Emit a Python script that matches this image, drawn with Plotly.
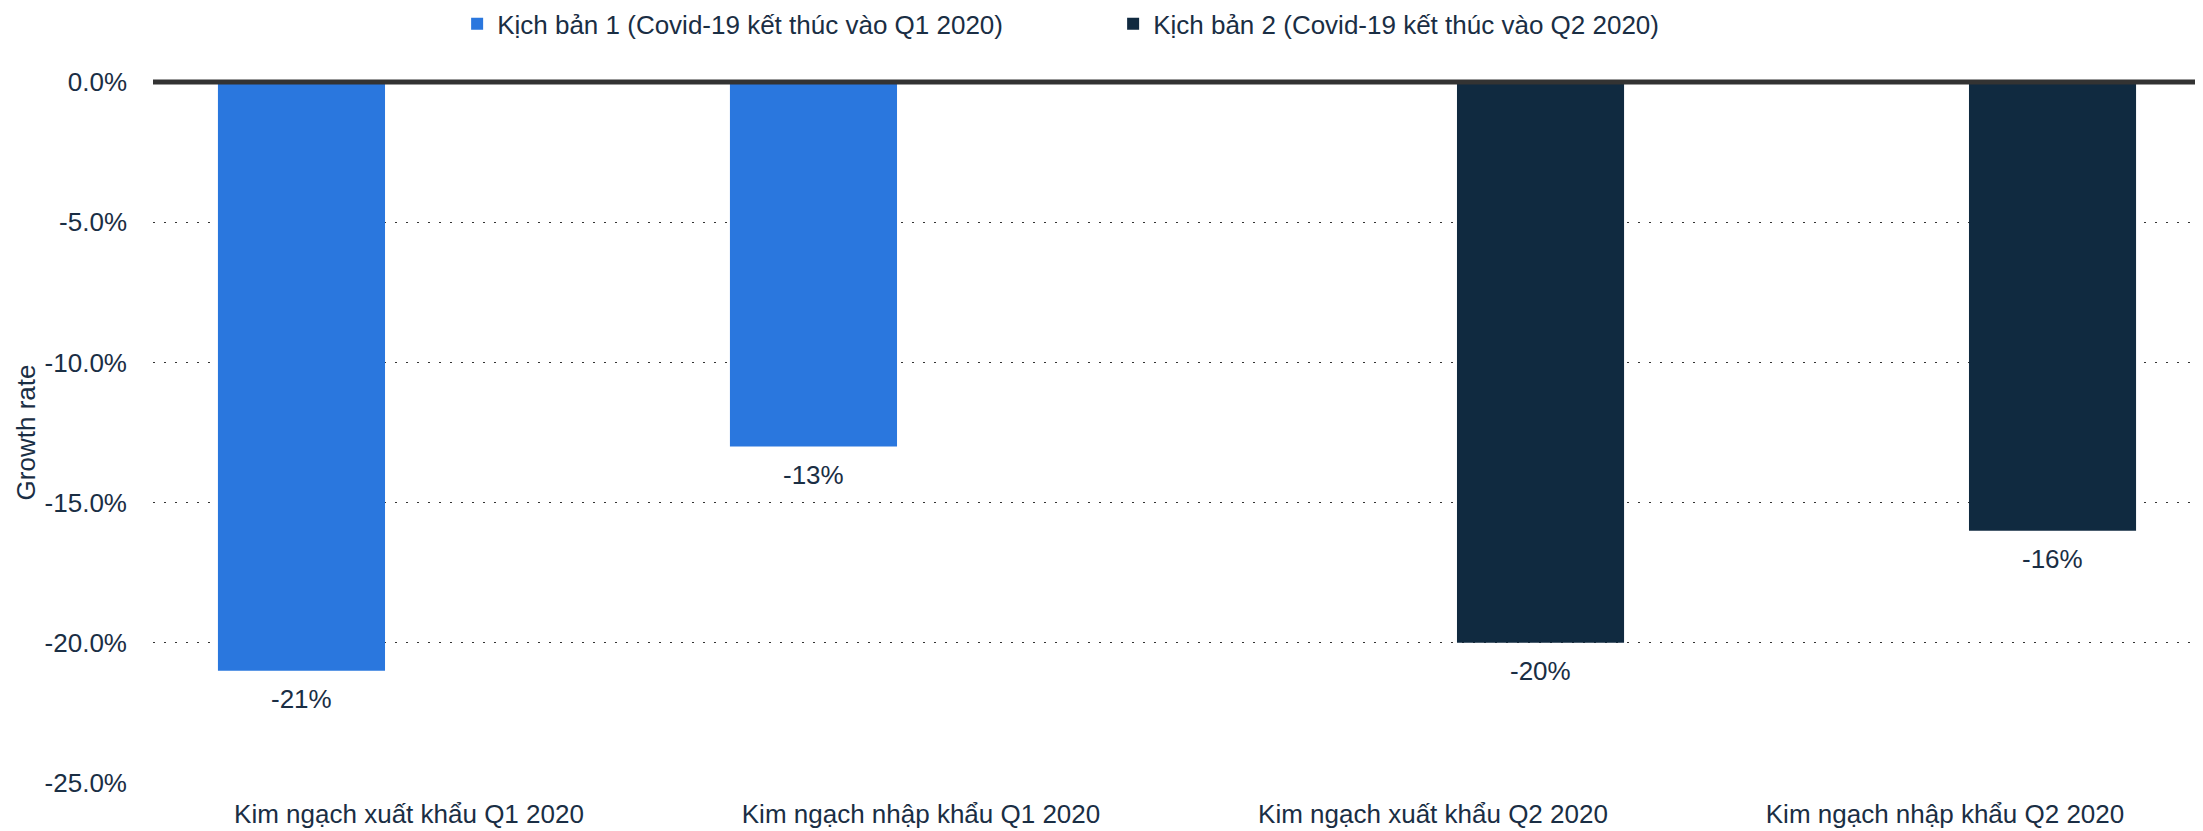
import plotly.graph_objects as go

categories = ["Kim ngạch xuất khẩu Q1 2020", "Kim ngạch nhập khẩu Q1 2020",
              "Kim ngạch xuất khẩu Q2 2020", "Kim ngạch nhập khẩu Q2 2020"]
series_names = ["Kịch bản 1 (Covid-19 kết thúc vào Q1 2020)",
                "Kịch bản 2 (Covid-19 kết thúc vào Q2 2020)"]
scenario1 = [-0.21, -0.13, None, None]
scenario2 = [None, None, -0.20, -0.16]
y_ticks = [0, -0.05, -0.10, -0.15, -0.20, -0.25]
y_tick_labels = ["0.0%", "-5.0%", "-10.0%", "-15.0%", "-20.0%", "-25.0%"]

TXT = "#1a2e44"
FONT = "Liberation Sans, Arial, sans-serif"
colors = ["#2a77de", "#102a40"]

# page body has an 8px margin; compensate so plot lands where the reference has it
W, H = 2203, 831
ML, MR, MT, MB = 145, 10, 74, 56
BARGAP, GROUPGAP = 0.16, 0.223

fig = go.Figure()
for name, vals, col in zip(series_names, [scenario1, scenario2], colors):
    fig.add_trace(go.Bar(x=categories, y=vals, name=name, marker_color=col,
                         marker_line_width=0, hoverinfo="skip"))

# value labels below bars
plot_w = W - ML - MR
cat_w = plot_w / len(categories)
slot = cat_w * (1 - BARGAP) / 2
for i, vals in enumerate([scenario1, scenario2]):
    shift = (i - 0.5) * slot
    for c, v in zip(categories, vals):
        if v is None:
            continue
        fig.add_annotation(x=c, y=v, xref="x", yref="y", text=f"{v*100:.0f}%",
                           showarrow=False, yanchor="top", yshift=-11, xshift=shift,
                           font=dict(family=FONT, size=26, color=TXT))

# zero line (paper-referenced so it is not clipped at the plot edge)
fig.add_shape(type="line", xref="paper", yref="paper", x0=0, x1=1, y0=1, y1=1,
              line=dict(color="#333333", width=5), layer="above")

fig.update_layout(
    width=W, height=H,
    margin=dict(l=ML, r=MR, t=MT, b=MB, autoexpand=False),
    paper_bgcolor="white", plot_bgcolor="white",
    barmode="group", bargap=BARGAP, bargroupgap=GROUPGAP,
    font=dict(family=FONT, size=26, color=TXT),
    showlegend=True,
    legend=dict(orientation="h", x=0.1485, xanchor="left", y=1.083, yanchor="middle",
                font=dict(family=FONT, size=26, color=TXT), entrywidth=611,
                bgcolor="rgba(0,0,0,0)", itemclick=False, itemdoubleclick=False),
    xaxis=dict(showgrid=False, showline=False, ticks="", ticklabelstandoff=13,
               tickfont=dict(family=FONT, size=26, color=TXT), automargin=False,
               range=[-0.5, 3.5]),
    yaxis=dict(range=[-0.25, 0], tickvals=y_ticks, ticktext=y_tick_labels,
               showgrid=True, gridcolor="#333333", gridwidth=1, griddash="2px,9px",
               zeroline=False, showline=False, ticks="", ticklabelstandoff=25,
               tickfont=dict(family=FONT, size=26, color=TXT), automargin=False,
               title=dict(text="Growth rate", standoff=1,
                          font=dict(family=FONT, size=26, color=TXT))),
)

fig.write_html("out.html")
